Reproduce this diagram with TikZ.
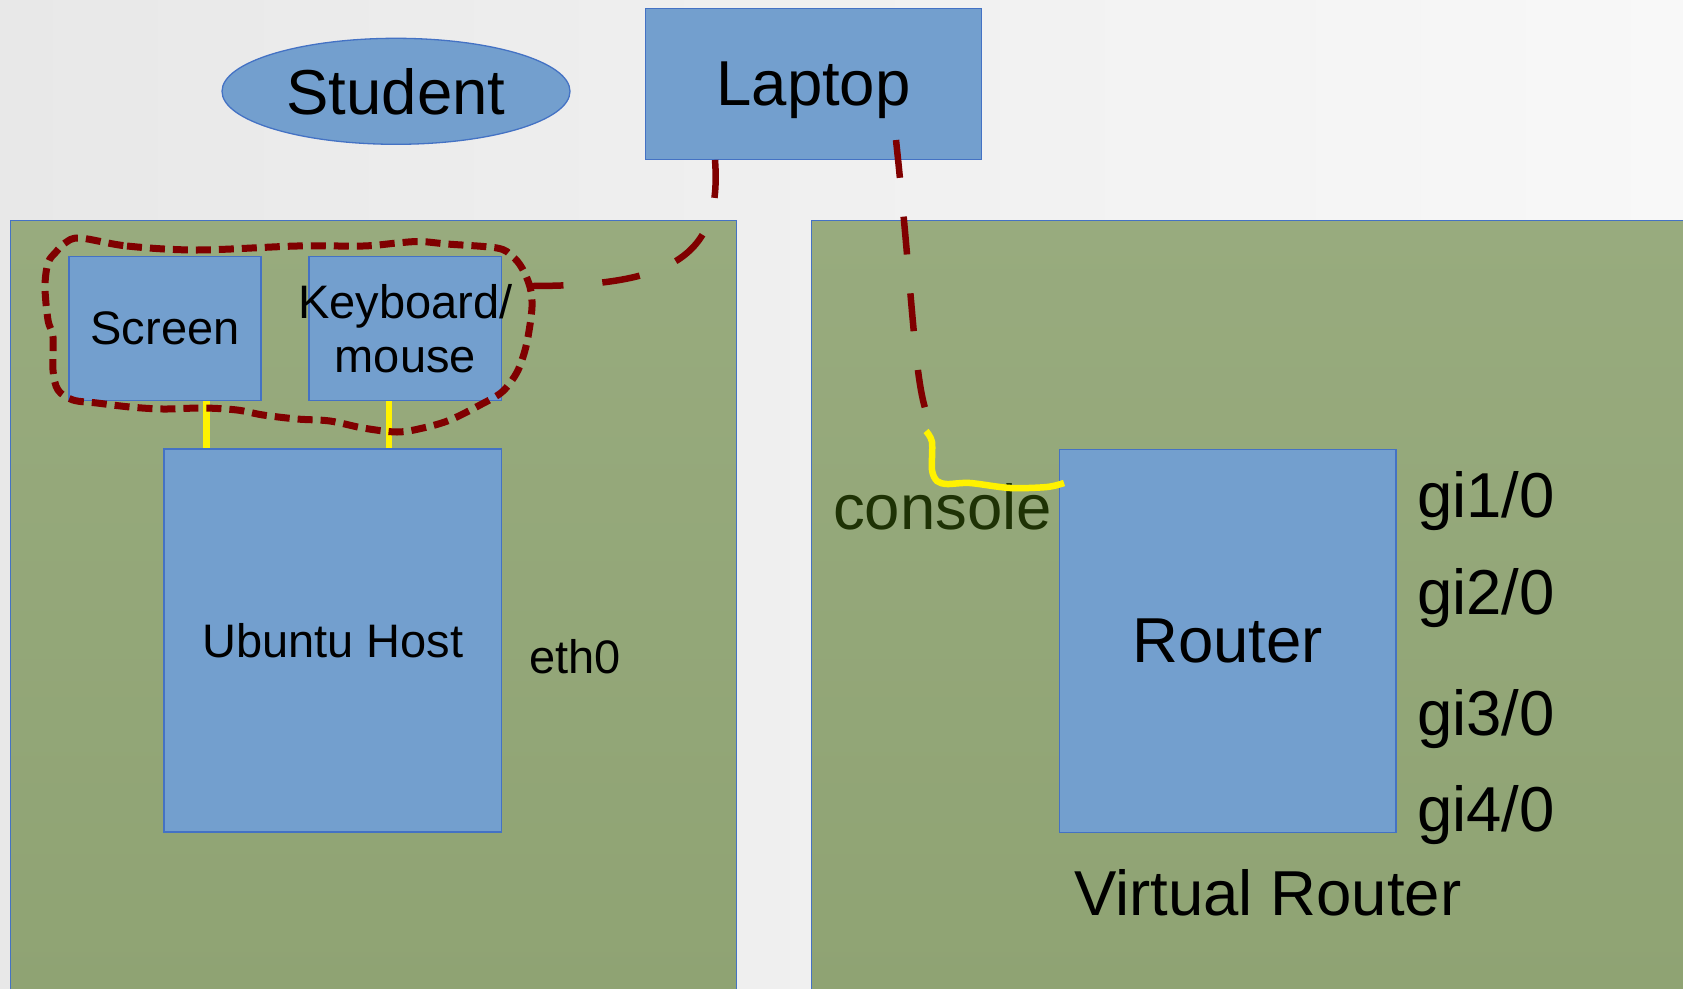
\documentclass[tikz,border=0pt]{standalone}
\usepackage{fontspec}
\setmainfont{Liberation Sans}
\usetikzlibrary{shapes.geometric}
\definecolor{bgL}{RGB}{232,232,232}
\definecolor{bgR}{RGB}{248,248,248}
\definecolor{panelT}{RGB}{152,171,126}
\definecolor{panelB}{RGB}{143,163,115}
\definecolor{boxfill}{RGB}{115,159,206}
\definecolor{boxline}{RGB}{68,114,196}
\definecolor{darkred}{RGB}{128,0,0}
\definecolor{consolegreen}{RGB}{30,50,5}
\begin{document}
\begin{tikzpicture}[x=1pt,y=-1pt,
  boxnode/.style={draw=boxline, line width=1.3pt, fill=boxfill, rectangle, inner sep=0pt, text=black},
  bigtext/.style={font=\fontsize{63.5}{70}\selectfont},
  smalltext/.style={font=\fontsize{47}{54}\selectfont},
  panelbox/.style={draw=boxline, line width=1pt, top color=panelT, bottom color=panelB},
  reddash/.style={draw=darkred, line width=6.5pt, dash pattern=on 38pt off 39pt},
  enclosure/.style={draw=darkred, line width=7pt, dash pattern=on 15pt off 8pt},
  yellowline/.style={draw=yellow, line width=6.5pt},
  plainlabel/.style={anchor=base west, inner sep=0pt, text=black}
]
\useasboundingbox (0,0) rectangle (1683,988);
\clip (0,0) rectangle (1683,988);
\shade[left color=bgL, right color=bgR] (0,0) rectangle (1683,988);

% panels
\path[panelbox] (10.5,220) rectangle (736,1000);
\path[panelbox] (811.5,220) rectangle (1700,1000);

% nodes
\node[boxnode, ellipse, minimum width=348pt, minimum height=106pt, bigtext, text depth=0pt] (student) at (396,91.3) {Student};
\node[boxnode, minimum width=336pt, minimum height=151pt, bigtext, text depth=0pt] (laptop) at (813.5,83.8) {Laptop};
\node[boxnode, minimum width=192pt, minimum height=144pt, smalltext] (screen) at (165,328.8) {Screen};
\node[boxnode, minimum width=192.5pt, minimum height=144pt] (keyboard) at (405.3,328.8) {};
\node[smalltext, align=center, inner sep=0pt] (kbtext) at (keyboard.center) {Keyboard/\\mouse};
\node[boxnode, minimum width=337.5pt, minimum height=383pt, smalltext] (ubuntu) at (332.8,640.5) {Ubuntu Host};
\node[boxnode, minimum width=336.5pt, minimum height=383pt, bigtext] (router) at (1227.7,640.7) {Router};

% labels
\node[plainlabel, smalltext] (eth) at (529,673) {eth0};
\node[plainlabel, bigtext, text=consolegreen] (console) at (833,529) {console};
\node[plainlabel, bigtext] (gi1) at (1417,517) {gi1/0};
\node[plainlabel, bigtext] (gi2) at (1417,614) {gi2/0};
\node[plainlabel, bigtext] (gi3) at (1417,735.6) {gi3/0};
\node[plainlabel, bigtext] (gi4) at (1417,831) {gi4/0};
\node[plainlabel, bigtext] (vr) at (1074,915.6) {Virtual Router};

% yellow cables host
\draw[yellowline] ([xshift=41.6pt]screen.south) -- ([xshift=41.6pt]screen.south |- ubuntu.north);
\draw[yellowline] ([xshift=-16.5pt]keyboard.south) -- ([xshift=-16.5pt]keyboard.south |- ubuntu.north);

% enclosure around screen and keyboard
\draw[enclosure] plot[smooth cycle, tension=0.55] coordinates {
 (80,238) (127,246) (197,250) (297,246) (363,246) (397,243) (420,241.5) (447,244) (497,248)
 (512,256) (522,268) (530,287) (532,307) (528,337) (523,357) (516,374) (502,392) (480,405)
 (450,420) (423,428) (397,432) (363,428) (330,421) (297,419) (263,415) (237,410) (203,408)
 (163,409) (130,407) (97,403) (73,400) (58,390) (53,370) (53,337) (48,320) (45,287) (48,263)
 (56,252) (65,243)};

% laptop connections
\coordinate (encR) at (531,286);
\coordinate (lapB) at (896,140);
\coordinate (conTop) at (925,408);
\draw[reddash] ([xshift=-98.5pt]laptop.south) .. controls (722,255) and (675,286) .. (encR);
\draw[reddash] (lapB) .. controls (912,290) and (914,370) .. (conTop);

% console cable
\coordinate (conStart) at (926,431);
\coordinate (conEnd) at (1064,483);
\draw[yellowline] plot[smooth, tension=0.5] coordinates {(conStart) (932,442) (932,470) (937,481) (947,484) (970,483) (1010,488) (1047,487) (conEnd)};
\end{tikzpicture}
\end{document}
